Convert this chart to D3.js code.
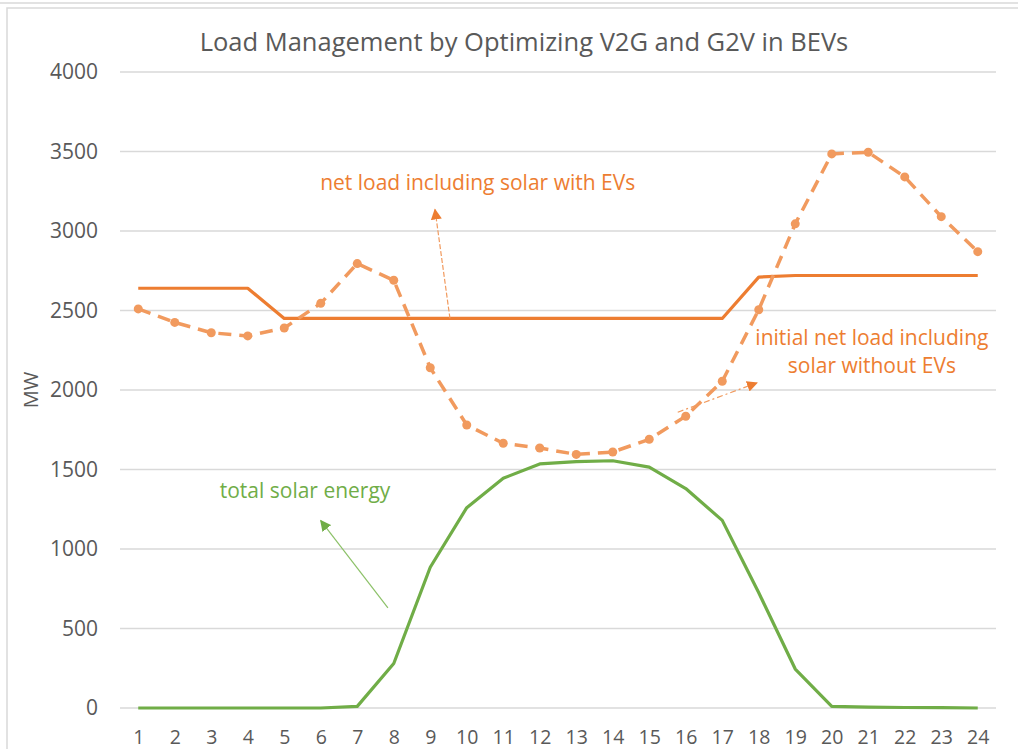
<!DOCTYPE html>
<html>
<head>
<meta charset="utf-8">
<script src="https://cdn.jsdelivr.net/npm/d3@7"></script>
<style>
  body { margin: 0; background: #fff; }
  svg { display: block; font-family: 'Open Sans', sans-serif; }
</style>
</head>
<body>
<svg id="chart" width="1018" height="749"></svg>
<script>
const hours = d3.range(1, 25)
const netLoadWithEVs = [2640, 2640, 2640, 2640, 2450, 2450, 2450, 2450, 2450, 2450, 2450, 2450,
  2450, 2450, 2450, 2450, 2450, 2710, 2720, 2720, 2720, 2720, 2720, 2720]
const initialNetLoad = [2510, 2425, 2360, 2340, 2390, 2545, 2795, 2690, 2140, 1780, 1665, 1635,
  1595, 1610, 1690, 1835, 2055, 2505, 3045, 3485, 3495, 3340, 3090, 2870]
const solarEnergy = [0, 0, 0, 0, 0, 0, 10, 280, 885, 1260, 1445, 1535,
  1550, 1555, 1515, 1380, 1180, 725, 245, 10, 5, 3, 2, 0]
const yTicks = [0, 500, 1000, 1500, 2000, 2500, 3000, 3500, 4000]

const title = 'Load Management by Optimizing V2G and G2V in BEVs'
const orange = '#ED7D31'
const orangeLight = '#F19A5E'
const green = '#70AD47'
const grey = '#595959'

const svg = d3.select('#chart')

// frame of the pasted chart
svg.append('line').attr('x1', 0).attr('x2', 1018).attr('y1', 3).attr('y2', 3)
  .attr('stroke', '#d9d9d9').attr('stroke-width', 1.5)
svg.append('path').attr('d', 'M7,749 V8 H1018')
  .attr('fill', 'none').attr('stroke', '#d9d9d9').attr('stroke-width', 1.5)

const x = d3.scalePoint().domain(hours).range([120, 996]).padding(0.5)
const xl = d3.scaleLinear().domain([1, 24]).range([x(1), x(24)]) // for annotations
const y = d3.scaleLinear().domain([0, 4000]).range([708, 72])

// gridlines
svg.append('g').selectAll('line').data(yTicks).join('line')
  .attr('x1', 120).attr('x2', 996)
  .attr('y1', d => y(d)).attr('y2', d => y(d))
  .attr('stroke', '#d9d9d9').attr('stroke-width', 1.3)

// y axis labels
const yAxis = svg.append('g').attr('transform', 'translate(108,0)')
  .call(d3.axisLeft(y).tickValues(yTicks).tickFormat(d3.format('d')).tickSize(0).tickPadding(10))
yAxis.select('.domain').remove()
yAxis.selectAll('text').attr('font-size', 21).attr('fill', grey)
  .attr('font-family', "'Open Sans', sans-serif")

// x axis labels
const xAxis = svg.append('g').attr('transform', 'translate(0,727)')
  .call(d3.axisBottom(x).tickSize(0).tickPadding(3))
xAxis.select('.domain').remove()
xAxis.selectAll('text').attr('font-size', 19.5).attr('fill', grey)
  .attr('font-family', "'Open Sans', sans-serif")

svg.append('text').attr('transform', 'translate(38,390) rotate(-90)')
  .attr('text-anchor', 'middle').attr('font-size', 20).attr('fill', grey).text('MW')

svg.append('text').attr('x', 524).attr('y', 51).attr('text-anchor', 'middle')
  .attr('font-size', 25.5).attr('fill', grey).text(title)

const line = d3.line().x((d, i) => x(hours[i])).y(d => y(d))

svg.append('path').datum(solarEnergy).attr('d', line)
  .attr('fill', 'none').attr('stroke', green).attr('stroke-width', 3.2)
  .attr('stroke-linejoin', 'round')

svg.append('path').datum(netLoadWithEVs).attr('d', line)
  .attr('fill', 'none').attr('stroke', orange).attr('stroke-width', 3.2)
  .attr('stroke-linejoin', 'round')

svg.append('path').datum(initialNetLoad).attr('d', line)
  .attr('fill', 'none').attr('stroke', orangeLight).attr('stroke-width', 3.5)
  .attr('stroke-dasharray', '13,8')
svg.append('g').selectAll('circle').data(initialNetLoad).join('circle')
  .attr('cx', (d, i) => x(hours[i])).attr('cy', d => y(d)).attr('r', 4.5)
  .attr('fill', orangeLight)

// arrowheads
const defs = svg.append('defs')
function marker (id, color) {
  defs.append('marker').attr('id', id)
    .attr('viewBox', '0 0 10 10').attr('refX', 9).attr('refY', 5)
    .attr('markerWidth', 11).attr('markerHeight', 11).attr('orient', 'auto')
    .attr('markerUnits', 'userSpaceOnUse')
    .append('path').attr('d', 'M0,0 L10,5 L0,10 Z').attr('fill', color)
}
marker('arrowOrange', orange)
marker('arrowGreen', green)

function arrow (from, to, color, markerId, dash) {
  svg.append('line')
    .attr('x1', xl(from[0])).attr('y1', y(from[1]))
    .attr('x2', xl(to[0])).attr('y2', y(to[1]))
    .attr('stroke', color).attr('stroke-width', 1.2)
    .attr('stroke-dasharray', dash || null)
    .attr('marker-end', `url(#${markerId})`)
}
arrow([9.54, 2450], [9.13, 3135], orangeLight, 'arrowOrange', '5,2')
arrow([15.78, 1860], [17.95, 2045], orangeLight, 'arrowOrange', '6,3,2,3')
arrow([7.84, 630], [6.0, 1178], '#8CC168', 'arrowGreen')

function label (lines, hx, v, color) {
  const t = svg.append('text').attr('text-anchor', 'middle')
    .attr('font-size', 21).attr('fill', color)
  lines.forEach((s, i) => {
    t.append('tspan').attr('x', xl(hx)).attr('y', y(v) + i * 28).text(s)
  })
}
label(['net load including solar with EVs'], 10.3, 3255, orange)
label(['initial net load including', 'solar without EVs'], 21.1, 2280, orange)
label(['total solar energy'], 5.57, 1318, green)
</script>
</body>
</html>
